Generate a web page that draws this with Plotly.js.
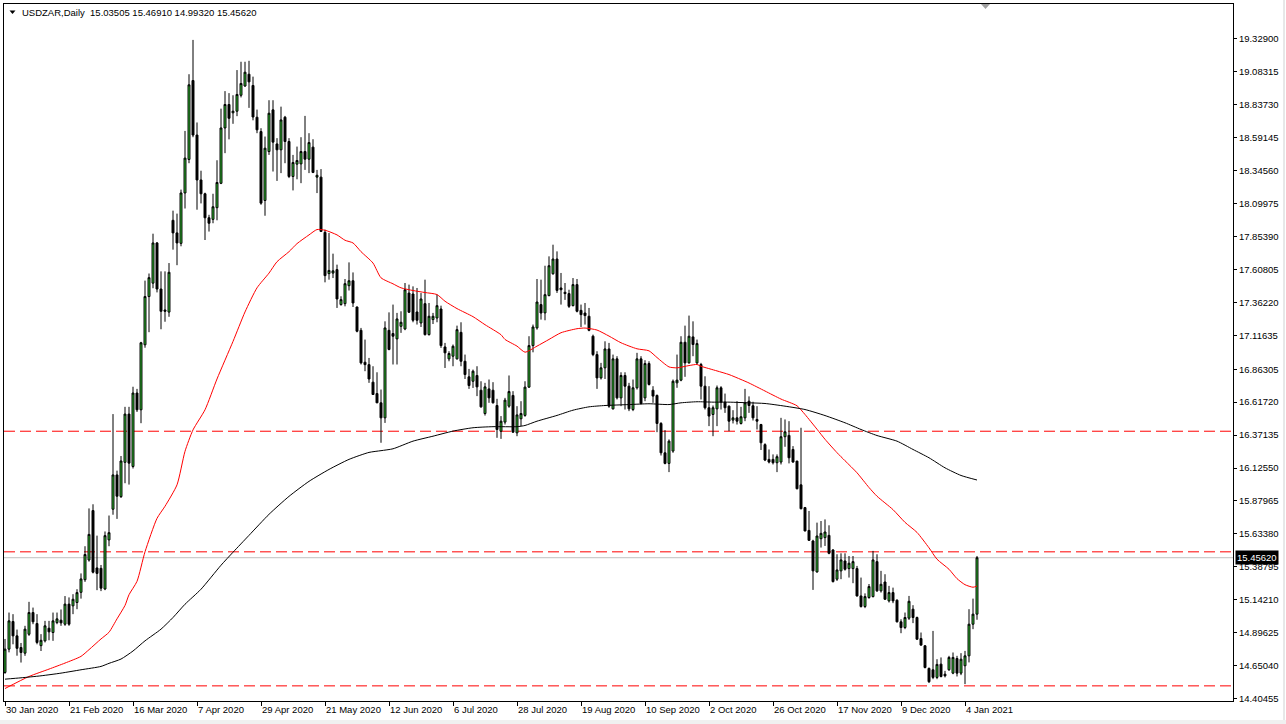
<!DOCTYPE html>
<html><head><meta charset="utf-8">
<script src="https://cdn.plot.ly/plotly-3.0.1.min.js"></script>
<style>html,body{margin:0;padding:0;background:#fff}#chart{width:1286px;height:724px}</style>
</head><body><div id="chart"></div>
<script>
const symbolName = 'USDZAR,Daily';
const firstDate = '2020-01-30';
const holidays = ['2020-12-25', '2021-01-01'];

const open = [14.600,14.774,14.980,14.873,14.786,14.744,14.885,15.047,14.965,14.800,14.836,14.930,14.898,14.972,14.990,14.960,15.110,15.097,15.122,15.198,
15.292,15.439,15.808,15.380,15.377,15.223,15.589,15.818,16.074,15.912,16.168,16.528,16.137,16.685,16.560,17.045,17.405,17.505,17.805,17.461,
17.305,17.289,17.974,17.880,17.802,18.178,18.428,19.017,18.610,18.275,18.172,17.993,17.981,18.068,18.250,18.663,18.838,18.776,18.788,18.907,
18.976,19.064,18.980,18.743,18.636,18.122,18.487,18.798,18.544,18.500,18.743,18.562,18.301,18.393,18.395,18.487,18.430,18.520,18.296,18.296,
17.884,17.576,17.580,17.606,17.345,17.352,17.486,17.523,17.327,17.153,16.915,16.897,16.766,16.681,16.612,16.500,17.153,17.129,17.089,17.183,
17.163,17.431,17.424,17.290,17.208,17.352,17.121,17.233,17.245,17.312,17.029,16.940,16.960,16.940,17.138,16.922,16.806,16.773,16.816,16.706,
16.532,16.716,16.706,16.592,16.400,16.468,16.587,16.667,16.388,16.493,16.518,16.729,17.039,17.171,17.345,17.283,17.412,17.575,17.685,17.469,
17.437,17.427,17.337,17.494,17.302,17.282,17.258,17.109,16.972,16.798,16.873,17.014,16.567,16.940,16.649,16.816,16.736,16.562,16.724,16.940,
16.649,16.905,16.706,16.667,16.458,16.239,16.160,16.252,16.761,16.781,17.064,16.910,17.104,16.910,16.898,16.736,16.575,16.525,16.567,16.724,
16.617,16.587,16.483,16.500,16.458,16.500,16.624,16.590,16.488,16.450,16.300,16.190,16.190,16.165,16.170,16.359,16.369,16.264,16.177,16.000,
15.830,15.660,15.581,15.350,15.598,15.606,15.623,15.514,15.296,15.358,15.432,15.375,15.375,15.375,15.171,15.092,15.159,15.166,15.427,15.209,
15.275,15.134,15.196,15.139,14.978,14.935,15.005,15.072,15.010,14.853,14.799,14.630,14.620,14.563,14.662,14.587,14.620,14.595,14.704,14.595,
14.650,14.724,14.960,15.03505];
const high = [14.850,15.047,15.035,14.920,14.820,14.948,15.127,15.084,15.035,14.886,14.985,14.985,15.047,15.047,15.070,15.170,15.160,15.184,15.221,15.339,
15.542,15.824,15.855,15.621,15.402,15.652,15.771,16.528,16.106,16.215,16.582,16.582,16.732,16.716,17.067,17.524,17.577,17.874,17.812,17.593,
17.593,17.655,18.046,18.024,18.203,18.641,19.064,19.320,18.704,18.344,18.180,18.015,18.172,18.422,18.807,18.938,18.923,18.907,19.095,19.157,
19.157,19.164,19.046,18.800,18.661,18.599,18.870,18.870,18.587,18.822,18.753,18.587,18.462,18.524,18.594,18.753,18.624,18.579,18.350,18.356,
17.904,17.879,17.725,17.643,17.407,17.536,17.660,17.585,17.330,17.171,17.084,16.947,16.885,16.840,16.711,17.220,17.287,17.345,17.283,17.295,
17.506,17.494,17.481,17.469,17.431,17.531,17.357,17.283,17.419,17.337,17.059,16.997,17.047,17.188,17.213,16.972,16.865,16.860,16.885,16.773,
16.761,16.786,16.766,16.642,16.513,16.649,16.816,16.699,16.587,16.624,16.773,17.109,17.196,17.536,17.531,17.635,17.705,17.792,17.742,17.581,
17.506,17.456,17.543,17.536,17.345,17.357,17.320,17.121,16.997,16.910,17.071,17.059,16.972,16.960,16.840,16.840,16.761,16.786,16.985,16.960,
16.930,16.922,16.736,16.674,16.468,16.408,16.339,16.786,16.972,17.109,17.188,17.263,17.220,17.084,16.910,16.810,16.736,16.592,16.741,16.736,
16.681,16.592,16.557,16.624,16.582,16.716,16.660,16.620,16.587,16.455,16.310,16.264,16.227,16.227,16.500,16.488,16.475,16.289,16.180,16.426,
15.835,15.805,15.590,15.718,15.730,15.742,15.698,15.520,15.482,15.489,15.489,15.469,15.469,15.395,15.308,15.190,15.260,15.507,15.482,15.358,
15.333,15.246,15.233,15.146,14.997,15.047,15.171,15.102,15.017,14.898,14.804,14.637,14.910,14.699,14.712,14.612,14.724,14.749,14.724,14.744,
14.761,15.072,15.151,15.4691];
const low = [14.590,14.750,14.810,14.725,14.674,14.724,14.873,14.960,14.810,14.760,14.824,14.840,14.836,14.960,14.948,14.948,14.948,15.035,15.072,15.151,
15.276,15.427,15.339,15.214,15.207,15.214,15.542,15.777,15.746,15.902,16.012,16.002,16.122,16.544,16.460,17.023,17.139,17.467,17.436,17.161,
17.217,17.254,17.755,17.639,17.780,18.062,18.400,18.594,18.053,18.100,17.827,17.890,17.952,17.974,18.244,18.475,18.578,18.694,18.751,18.891,
18.970,18.813,18.720,18.624,18.090,18.008,18.462,18.338,18.268,18.326,18.400,18.289,18.197,18.280,18.251,18.350,18.326,18.326,18.177,17.890,
17.511,17.531,17.543,17.320,17.337,17.332,17.450,17.327,17.138,16.898,16.848,16.761,16.672,16.610,16.314,16.462,17.004,16.898,16.898,17.134,
17.154,17.283,17.213,17.196,17.178,17.114,17.114,17.200,17.213,17.022,16.872,16.922,16.885,16.935,16.885,16.790,16.716,16.723,16.662,16.575,
16.517,16.612,16.607,16.351,16.343,16.450,16.575,16.388,16.363,16.438,16.508,16.724,16.989,17.158,17.233,17.228,17.407,17.568,17.432,17.345,
17.380,17.320,17.332,17.287,17.178,17.196,17.146,16.960,16.716,16.786,16.790,16.575,16.562,16.637,16.587,16.562,16.550,16.550,16.711,16.600,
16.624,16.741,16.612,16.393,16.219,16.153,16.095,16.239,16.724,16.773,16.806,16.905,16.960,16.898,16.637,16.562,16.438,16.363,16.438,16.562,
16.537,16.401,16.458,16.450,16.450,16.475,16.537,16.480,16.413,16.260,16.177,16.160,16.152,16.095,16.152,16.284,16.160,16.165,15.966,15.817,
15.653,15.581,15.216,15.345,15.532,15.544,15.482,15.271,15.283,15.296,15.360,15.308,15.266,15.166,15.084,15.080,15.150,15.160,15.201,15.196,
15.141,15.122,15.117,14.973,14.893,14.923,14.992,14.968,14.843,14.799,14.630,14.521,14.550,14.550,14.563,14.563,14.612,14.587,14.570,14.580,
14.513,14.675,14.923,14.9932];
const close = [14.774,14.985,14.873,14.780,14.749,14.923,15.047,14.978,14.824,14.840,14.948,14.903,14.985,15.000,14.970,15.110,14.960,15.146,15.196,15.298,
15.480,15.630,15.348,15.339,15.229,15.621,15.643,16.074,15.915,16.178,16.528,16.162,16.685,16.560,17.060,17.405,17.546,17.805,17.461,17.295,
17.295,17.586,17.880,17.805,18.178,18.438,18.985,18.610,18.275,18.172,17.993,17.952,18.075,18.256,18.663,18.838,18.735,18.788,18.913,18.995,
19.079,19.007,18.745,18.649,18.102,18.512,18.773,18.557,18.500,18.723,18.562,18.301,18.405,18.420,18.487,18.430,18.554,18.331,18.310,17.891,
17.561,17.600,17.597,17.387,17.382,17.501,17.523,17.357,17.146,16.910,16.897,16.790,16.674,16.612,16.500,17.171,17.010,17.109,17.238,17.213,
17.456,17.288,17.228,17.228,17.387,17.121,17.258,17.258,17.337,17.039,16.985,16.980,17.034,17.158,16.922,16.823,16.741,16.848,16.731,16.582,
16.731,16.649,16.612,16.413,16.475,16.632,16.696,16.393,16.522,16.532,16.729,17.039,17.178,17.364,17.282,17.419,17.635,17.685,17.451,17.456,
17.427,17.332,17.494,17.295,17.270,17.263,17.153,16.972,16.798,16.873,17.014,16.587,16.940,16.649,16.816,16.736,16.567,16.724,16.940,16.607,
16.905,16.749,16.662,16.458,16.239,16.160,16.326,16.773,16.781,17.064,16.910,17.109,17.047,17.054,16.736,16.575,16.513,16.575,16.724,16.617,
16.575,16.475,16.500,16.475,16.508,16.612,16.592,16.500,16.475,16.314,16.185,16.170,16.165,16.210,16.359,16.396,16.202,16.170,15.971,15.822,
15.656,15.586,15.358,15.618,15.638,15.648,15.489,15.278,15.365,15.440,15.370,15.415,15.427,15.171,15.092,15.166,15.241,15.440,15.209,15.258,
15.146,15.196,15.134,14.978,14.935,15.010,15.131,15.010,14.848,14.804,14.637,14.531,14.563,14.660,14.570,14.575,14.712,14.712,14.595,14.699,
14.724,14.960,15.035,15.4562];

const redMaBars   = [0,6,11,15,19,21,24,26,28,30,31,33,35,38,40,43,45,47,50,53,57,60,63,66,68,71,73,76,78,80,83,85,87,89,92,94,97,99,102,105,108,110,113,117,120,124,125,128,130,133,136,139,143,145,148,151,154,158,161,163,166,168,171,173,174,178,181,184,186,190,194,198,200,203,205,208,210,213,216,218,222,225,228,231,233,236,238,240,242,243];
const redMaValues = [14.48,14.57,14.625,14.67,14.72,14.77,14.85,14.90,15.00,15.10,15.18,15.28,15.50,15.75,15.84,16.00,16.25,16.41,16.56,16.79,17.07,17.29,17.47,17.58,17.665,17.74,17.80,17.865,17.905,17.90,17.865,17.825,17.805,17.74,17.655,17.545,17.50,17.47,17.45,17.435,17.42,17.37,17.315,17.255,17.195,17.12,17.085,17.035,16.99,17.035,17.085,17.135,17.165,17.17,17.155,17.11,17.06,17.015,17.0,16.95,16.88,16.873,16.89,16.898,16.885,16.85,16.823,16.786,16.76,16.70,16.64,16.59,16.525,16.415,16.34,16.24,16.18,16.09,15.98,15.915,15.815,15.72,15.645,15.53,15.445,15.37,15.30,15.255,15.236,15.245];
const blackMaBars   = [0,4,9,14,19,24,26,29,32,35,39,42,45,49,54,57,61,66,71,76,81,86,91,94,97,102,107,112,117,122,128,130,133,138,142,146,150,156,161,166,169,173,177,181,186,190,195,200,205,210,214,218,223,227,231,235,239,243];
const blackMaValues = [14.55,14.56,14.575,14.595,14.62,14.645,14.668,14.70,14.76,14.836,14.923,15.01,15.109,15.221,15.40,15.497,15.623,15.78,15.914,16.026,16.115,16.19,16.242,16.255,16.269,16.326,16.363,16.401,16.426,16.434,16.434,16.443,16.475,16.518,16.557,16.582,16.592,16.599,16.605,16.599,16.612,16.62,16.617,16.617,16.612,16.607,16.587,16.562,16.517,16.463,16.413,16.368,16.326,16.264,16.202,16.127,16.07,16.036];

const levelLines = [16.40, 15.50, 14.50];
const xTickDates  = ['2020-01-30','2020-02-21','2020-03-16','2020-04-07','2020-04-29','2020-05-21','2020-06-12','2020-07-06','2020-07-28','2020-08-19','2020-09-10','2020-10-02','2020-10-26','2020-11-17','2020-12-09','2021-01-04'];
const xTickLabels = ['30 Jan 2020','21 Feb 2020','16 Mar 2020','7 Apr 2020','29 Apr 2020','21 May 2020','12 Jun 2020','6 Jul 2020','28 Jul 2020','19 Aug 2020','10 Sep 2020','2 Oct 2020','26 Oct 2020','17 Nov 2020','9 Dec 2020','4 Jan 2021'];
const yTickLabels = ['19.32900','19.08315','18.83730','18.59145','18.34560','18.09975','17.85390','17.60805','17.36220','17.11635','16.86305','16.61720','16.37135','16.12550','15.87965','15.63380','15.38795','15.14210','14.89625','14.65040','14.40455'];

function tradingDays(start, n, skip) {
  const out = [];
  const d = new Date(start + 'T00:00:00Z');
  while (out.length < n) {
    const s = d.toISOString().slice(0, 10);
    const dow = d.getUTCDay();
    if (dow !== 0 && dow !== 6 && skip.indexOf(s) < 0) out.push(s);
    d.setUTCDate(d.getUTCDate() + 1);
  }
  return out;
}
const dates = tradingDays(firstDate, close.length, holidays);
const last = close.length - 1;

const FONT = 'Liberation Sans, Arial, sans-serif';
const W = 1286, H = 724, L = 4, R = 53, T = 4, B = 23;
const pw = W - L - R, ph = H - T - B;
const px = x => (x - L) / pw;
const py = y => (H - B - y) / ph;

const traces = [
  {
    type: 'candlestick', x: dates, open: open, high: high, low: low, close: close,
    increasing: {line: {color: '#000000', width: 1}, fillcolor: '#32cd32'},
    decreasing: {line: {color: '#000000', width: 1}, fillcolor: '#000000'},
    whiskerwidth: 0, hoverinfo: 'skip', showlegend: false
  },
  {
    type: 'scatter', mode: 'lines', x: redMaBars.map(i => dates[i]), y: redMaValues,
    line: {color: '#ff0000', width: 1, shape: 'spline', smoothing: 0.6}, hoverinfo: 'skip', showlegend: false
  },
  {
    type: 'scatter', mode: 'lines', x: blackMaBars.map(i => dates[i]), y: blackMaValues,
    line: {color: '#000000', width: 1, shape: 'spline', smoothing: 0.6}, hoverinfo: 'skip', showlegend: false
  }
];

const shapes = levelLines.map(v => ({
  type: 'line', xref: 'paper', x0: 0, x1: 1, yref: 'y', y0: v, y1: v,
  line: {color: '#ff0000', width: 1, dash: '11px,5px'}, layer: 'below'
}));
shapes.push({type: 'line', xref: 'paper', x0: 0, x1: 1, yref: 'y', y0: close[last], y1: close[last],
  line: {color: '#c0c0c0', width: 1}, layer: 'below'});
shapes.push({type: 'path', xref: 'paper', yref: 'paper',
  path: `M ${px(9.5)} ${py(10.5)} L ${px(15.5)} ${py(10.5)} L ${px(12.5)} ${py(14)} Z`,
  fillcolor: '#000', line: {width: 0}});
shapes.push({type: 'path', xref: 'paper', yref: 'paper',
  path: `M ${px(981)} ${py(4)} L ${px(990)} ${py(4)} L ${px(985.5)} ${py(9)} Z`,
  fillcolor: '#a0a0a0', line: {width: 0}});
shapes.push({type: 'line', xref: 'paper', yref: 'paper', x0: px(1284), x1: px(1284), y0: py(0), y1: py(720),
  line: {color: '#d0d0d0', width: 1}});
shapes.push({type: 'rect', xref: 'paper', yref: 'paper', x0: px(0), x1: px(1286), y0: py(720), y1: py(724),
  fillcolor: '#f0f0f0', line: {width: 0}});

const f5 = v => v.toFixed(5);
const annotations = [
  {xref: 'paper', yref: 'paper', x: px(20), y: py(12.5), xanchor: 'left', yanchor: 'middle', showarrow: false,
   text: symbolName + '  ' + [open[last], high[last], low[last], close[last]].map(f5).join(' '),
   font: {family: FONT, size: 9.5, color: '#000'}},
  {xref: 'paper', yref: 'y', x: 1, y: close[last], xanchor: 'left', yanchor: 'middle', xshift: 2, showarrow: false,
   text: f5(close[last]), bgcolor: '#000000', borderpad: 1,
   font: {family: FONT, size: 9.5, color: '#ffffff'}}
];

const layout = {
  width: W, height: H,
  margin: {l: L, r: R, t: T, b: B, pad: 0},
  paper_bgcolor: '#ffffff', plot_bgcolor: '#ffffff',
  showlegend: false, boxgap: 0.3, boxgroupgap: 0.3,
  font: {family: FONT, size: 9, color: '#000'},
  xaxis: {
    type: 'category', categoryorder: 'array', categoryarray: dates,
    range: [-0.25, 307], rangeslider: {visible: false},
    tickmode: 'array', tickvals: xTickDates, ticktext: xTickLabels,
    ticks: 'outside', ticklen: 4, tickcolor: '#000', ticklabelposition: 'outside right',
    showline: true, linecolor: '#000', linewidth: 1, mirror: true,
    showgrid: false, zeroline: false, fixedrange: true,
    tickfont: {family: FONT, size: 9.5, color: '#000'}
  },
  yaxis: {
    side: 'right', range: [14.387, 19.588],
    tickmode: 'array', tickvals: yTickLabels.map(Number), ticktext: yTickLabels,
    ticks: 'outside', ticklen: 3, tickcolor: '#000',
    showline: true, linecolor: '#000', linewidth: 1, mirror: true,
    showgrid: false, zeroline: false, fixedrange: true,
    tickfont: {family: FONT, size: 9.5, color: '#000'}
  },
  shapes: shapes, annotations: annotations
};

Plotly.newPlot('chart', traces, layout, {staticPlot: true, displayModeBar: false});
</script></body></html>
